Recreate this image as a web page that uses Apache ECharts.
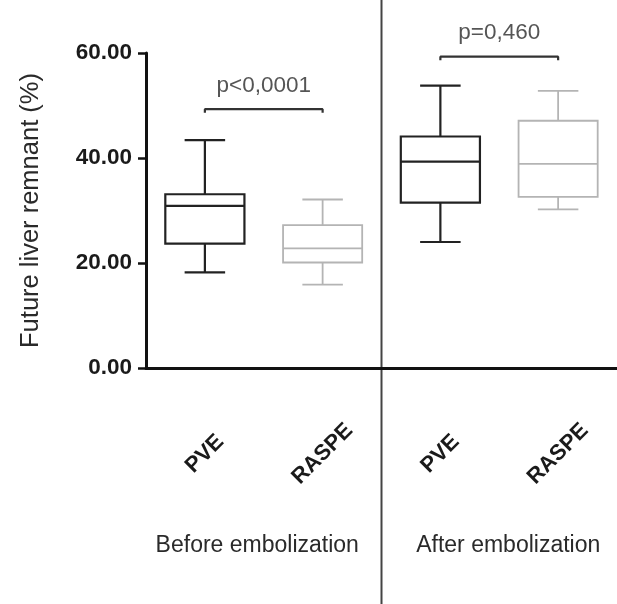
<!DOCTYPE html>
<html><head><meta charset="utf-8">
<script src="https://cdn.jsdelivr.net/npm/echarts@6/dist/echarts.min.js"></script>
<style>html,body{margin:0;padding:0;background:#fff}#c{width:617px;height:604px}</style>
</head><body><div id="c"></div>
<script>
var categories = ['PVE', 'RASPE', 'PVE', 'RASPE'];
var groups = ['Before embolization', 'After embolization'];
// [min, q1, median, q3, max]
var boxValues = [
  [18.2, 23.7, 30.9, 33.1, 43.4],
  [15.9, 20.1, 22.8, 27.2, 32.1],
  [24.0, 31.5, 39.3, 44.1, 53.8],
  [30.2, 32.6, 38.9, 47.1, 52.8]
];
var boxColors = ['#222', '#b4b4b4', '#222', '#b4b4b4'];
var yTicks = [0, 20, 40, 60];
var brackets = [
  {from: 0, to: 1, y: 49.3, drop: 0.7, text: 'p<0,0001'},
  {from: 2, to: 3, y: 59.3, drop: 0.7, text: 'p=0,460'}
];
var yName = 'Future liver remnant (%)';

var font = '"Liberation Sans", Arial, sans-serif';
var chart = echarts.init(document.getElementById('c'), null, {renderer: 'canvas'});

var boxData = boxValues.map(function (v, i) { return [i].concat(v); });

var series = [{
  type: 'custom',
  xAxisIndex: 0, yAxisIndex: 0,
  data: boxData,
  encode: {x: 0, y: [1, 2, 3, 4, 5]},
  renderItem: function (params, api) {
    var idx = api.value(0);
    var band = api.size([1, 0])[0];
    var hw = band * 0.336;
    var cw = band * 0.172;
    var pMin = api.coord([idx, api.value(1)]);
    var pQ1 = api.coord([idx, api.value(2)]);
    var pMed = api.coord([idx, api.value(3)]);
    var pQ3 = api.coord([idx, api.value(4)]);
    var pMax = api.coord([idx, api.value(5)]);
    var x = pMed[0];
    var col = boxColors[idx];
    var lw = col === '#222' ? 2.2 : 1.8;
    var st = {stroke: col, lineWidth: lw, fill: null};
    return {
      type: 'group',
      children: [
        {type: 'rect', shape: {x: x - hw, y: pQ3[1], width: 2 * hw, height: pQ1[1] - pQ3[1]}, style: {stroke: col, lineWidth: lw, fill: 'rgba(0,0,0,0)'}},
        {type: 'line', shape: {x1: x - hw, y1: pMed[1], x2: x + hw, y2: pMed[1]}, style: st},
        {type: 'line', shape: {x1: x, y1: pQ3[1], x2: x, y2: pMax[1]}, style: st},
        {type: 'line', shape: {x1: x, y1: pQ1[1], x2: x, y2: pMin[1]}, style: st},
        {type: 'line', shape: {x1: x - cw, y1: pMax[1], x2: x + cw, y2: pMax[1]}, style: st},
        {type: 'line', shape: {x1: x - cw, y1: pMin[1], x2: x + cw, y2: pMin[1]}, style: st}
      ]
    };
  }
}];

brackets.forEach(function (b) {
  series.push({
    type: 'line', xAxisIndex: 1, yAxisIndex: 0, symbol: 'none', silent: true,
    lineStyle: {color: '#333', width: 2.2},
    data: [[b.from, b.y - b.drop], [b.from, b.y], [b.to, b.y], [b.to, b.y - b.drop]],
    animation: false
  });
});
series.push({
  type: 'scatter', xAxisIndex: 1, yAxisIndex: 0, symbolSize: 0, clip: false,
  data: brackets.map(function (b) { return [(b.from + b.to) / 2, b.y]; }),
  label: {
    show: true, position: 'top', distance: 12,
    fontFamily: font, fontSize: 22.5, color: '#2a2a2a',
    formatter: function (p) { return brackets[p.dataIndex].text; }
  }
});

chart.setOption({
  animation: false,
  backgroundColor: '#fff',
  grid: {left: 146, top: 53, bottom: 236, right: -5, containLabel: false},
  xAxis: [{
    type: 'category', data: categories, position: 'bottom',
    axisLine: {onZero: false, lineStyle: {color: '#111', width: 3}},
    axisTick: {alignWithLabel: true, length: 6, lineStyle: {color: '#111', width: 2.5}},
    axisLabel: {
      interval: 0, rotate: 45, align: 'center', verticalAlign: 'middle', margin: 86,
      fontFamily: font, fontWeight: 'bold', fontSize: 22, color: '#1a1a1a'
    },
    splitLine: {show: false}
  }, {
    type: 'value', min: -0.5, max: 3.5, show: false
  }, {
    type: 'category', data: groups, position: 'bottom',
    axisLine: {show: false}, axisTick: {show: false},
    axisLabel: {
      interval: 0, margin: 166, fontFamily: font, fontSize: 23, color: '#2a2a2a',
      formatter: function (v, i) { return '{g' + i + '|' + v + '}'; },
      rich: {
        g0: {fontFamily: font, fontSize: 23, color: '#2a2a2a', padding: [0, 13, 0, 0]},
        g1: {fontFamily: font, fontSize: 23, color: '#2a2a2a', padding: [0, 0, 0, 18]}
      }
    }
  }],
  yAxis: {
    type: 'value', min: 0, max: 60, interval: 20,
    axisLine: {show: true, onZero: false, lineStyle: {color: '#111', width: 3}},
    axisTick: {show: true, length: 8, lineStyle: {color: '#111', width: 2.5}},
    axisLabel: {
      margin: 14, fontFamily: font, fontWeight: 'bold', fontSize: 22.5, color: '#1a1a1a',
      formatter: function (v) { return yTicks.indexOf(v) >= 0 ? v.toFixed(2) : ''; }
    },
    splitLine: {show: false},
    name: yName, nameLocation: 'middle', nameGap: 102, nameRotate: 90,
    nameTextStyle: {fontFamily: font, fontSize: 25.5, color: '#2a2a2a'}
  },
  series: series
});

var divX = chart.convertToPixel({xAxisIndex: 1}, 1.5);
chart.setOption({
  graphic: [{
    type: 'line', silent: true,
    shape: {x1: divX, y1: 0, x2: divX, y2: 604},
    style: {stroke: '#444', lineWidth: 2}
  }]
});
</script>
</body></html>
